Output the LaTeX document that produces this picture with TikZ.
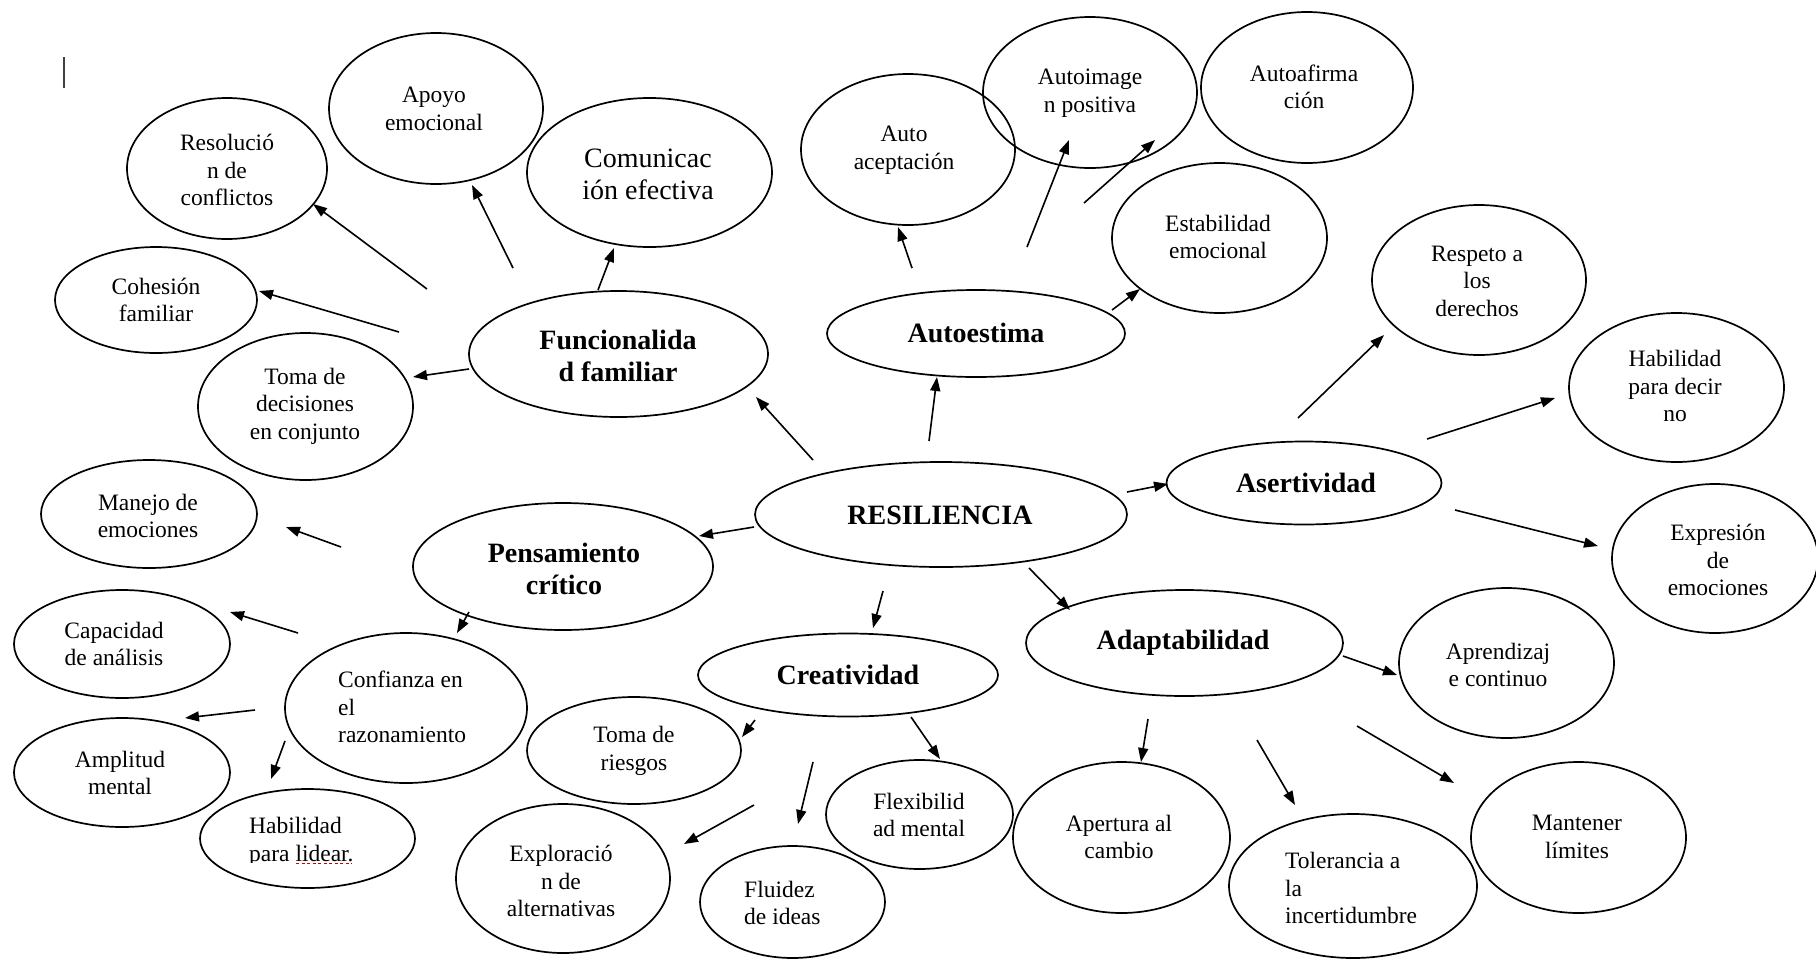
\documentclass[tikz,border=0pt]{standalone}
\usepackage{fontspec}
\setmainfont{Liberation Serif}
\usetikzlibrary{shapes.geometric,arrows.meta}
\tikzset{
  ell/.style={draw, ellipse, line width=1.7pt, inner sep=0pt, outer sep=0pt},
  txt/.style={inner sep=0pt, align=center, font=\fontsize{23.5}{27.5}\selectfont},
  txtl/.style={inner sep=0pt, align=left, font=\fontsize{23.5}{27.5}\selectfont},
  big/.style={inner sep=0pt, align=center, font=\fontsize{28}{32}\selectfont},
  bold/.style={inner sep=0pt, align=center, font=\fontsize{28}{32}\selectfont\bfseries},
  arr/.style={line width=1.6pt, -{Triangle[length=14pt,width=10pt]}}
}
\begin{document}
\begin{tikzpicture}[x=1pt,y=-1pt]
\useasboundingbox[fill=white] (0,0) rectangle (1816,959);
% text cursor
\coordinate (cur1) at (64,57); \coordinate (cur2) at (64,88);
\draw[line width=2.5pt, black!75] (cur1) -- (cur2);
% ellipses
\node[ell, minimum width=200, minimum height=141] (resol) at (227,168.5) {};
\node[ell, minimum width=214, minimum height=151] (apoyo) at (436,108.5) {};
\node[ell, minimum width=245, minimum height=149] (comun) at (649.5,172.5) {};
\node[ell, minimum width=202, minimum height=106] (cohes) at (156,300) {};
\node[ell, minimum width=215, minimum height=147] (tomadec) at (305.5,406.5) {};
\node[ell, minimum width=299, minimum height=126] (func) at (618.5,354) {};
\node[ell, minimum width=214, minimum height=151] (autoac) at (908,149.5) {};
\node[ell, minimum width=214, minimum height=151] (autoim) at (1090,92.5) {};
\node[ell, minimum width=212, minimum height=151] (autoaf) at (1307,87.5) {};
\node[ell, minimum width=215, minimum height=150] (estab) at (1219.5,238) {};
\node[ell, minimum width=298, minimum height=87] (autoest) at (976,333.5) {};
\node[ell, minimum width=214, minimum height=150] (respeto) at (1479,280) {};
\node[ell, minimum width=215, minimum height=149] (decirno) at (1676.5,387.5) {};
\node[ell, minimum width=275, minimum height=83] (asert) at (1304,483) {};
\node[ell, minimum width=206, minimum height=149] (expres) at (1715,558.5) {};
\node[ell, minimum width=372, minimum height=105] (resil) at (941,514.5) {};
\node[ell, minimum width=216, minimum height=108] (manejo) at (149,514) {};
\node[ell, minimum width=300, minimum height=127] (pens) at (563,566.5) {};
\node[ell, minimum width=216, minimum height=108] (capac) at (122,644) {};
\node[ell, minimum width=242, minimum height=150] (confi) at (406,708) {};
\node[ell, minimum width=216, minimum height=109] (amplit) at (122,772.5) {};
\node[ell, minimum width=215, minimum height=99] (lidear) at (307.5,838.5) {};
\node[ell, minimum width=214, minimum height=107] (riesgos) at (634,750.5) {};
\node[ell, minimum width=214, minimum height=149] (explor) at (563,878.5) {};
\node[ell, minimum width=300, minimum height=83] (creat) at (848,675) {};
\node[ell, minimum width=185, minimum height=112] (fluidez) at (792.5,902) {};
\node[ell, minimum width=187, minimum height=109] (flexib) at (919.5,814.5) {};
\node[ell, minimum width=317, minimum height=106] (adapt) at (1184.5,643) {};
\node[ell, minimum width=215, minimum height=150] (aprend) at (1506.5,663) {};
\node[ell, minimum width=217, minimum height=151] (apert) at (1121.5,837.5) {};
\node[ell, minimum width=248, minimum height=144] (toler) at (1353,886) {};
\node[ell, minimum width=215, minimum height=151] (manten) at (1578.5,837.5) {};
% texts
\node[txt] (resol-t) at (227,170) {Resolució\\n de\\conflictos};
\node[txt] (apoyo-t) at (434,109) {Apoyo\\emocional};
\node[big] (comun-t) at (648,174) {Comunicac\\ión efectiva};
\node[txt] (cohes-t) at (156,300) {Cohesión\\familiar};
\node[txt] (tomadec-t) at (305,406) {Toma de\\decisiones\\en conjunto};
\node[bold] (func-t) at (618,356) {Funcionalida\\d familiar};
\node[txt] (autoac-t) at (904,150) {Auto\\aceptación};
\node[txt] (autoim-t) at (1090,93) {Autoimage\\n positiva};
\node[txt] (autoaf-t) at (1304,87) {Autoafirma\\ción};
\node[txt] (estab-t) at (1218,237) {Estabilidad\\emocional};
\node[bold] (autoest-t) at (976,333) {Autoestima};
\node[txt] (respeto-t) at (1477,281) {Respeto a\\los\\derechos};
\node[txt] (decirno-t) at (1675,386) {Habilidad\\para decir\\no};
\node[bold] (asert-t) at (1306,483) {Asertividad};
\node[txt] (expres-t) at (1718,560) {Expresión\\de\\emociones};
\node[bold] (resil-t) at (940,515) {RESILIENCIA};
\node[txt] (manejo-t) at (148,516) {Manejo de\\emociones};
\node[bold] (pens-t) at (564,569) {Pensamiento\\crítico};
\node[txt] (capac-t) at (114,644) {Capacidad\\de análisis};
\node[txtl, anchor=west] (confi-t) at (338,707) {Confianza en\\el\\razonamiento};
\node[txt] (amplit-t) at (120,773) {Amplitud\\mental};
\begin{scope}
\clip (190,780) rectangle (430,862.5);
\node[txtl, anchor=west] (lidear-t) at (249,842) {Habilidad\\para lidear.};
\end{scope}
\coordinate (sq1) at (296,863.5); \coordinate (sq2) at (352,863.5);
\draw[red!80!black, line width=1.2pt, dash pattern=on 3pt off 2.5pt] (sq1) -- (sq2);
\node[txt] (riesgos-t) at (634,751) {Toma de\\riesgos};
\node[txt] (explor-t) at (561,881) {Exploració\\n de\\alternativas};
\node[bold] (creat-t) at (848,675) {Creatividad};
\node[txtl, anchor=west] (fluidez-t) at (744,903) {Fluidez\\de ideas};
\node[txt] (flexib-t) at (919,815) {Flexibilid\\ad mental};
\node[bold] (adapt-t) at (1183,643) {Adaptabilidad};
\node[txt] (aprend-t) at (1498,665) {Aprendizaj\\e continuo};
\node[txt] (apert-t) at (1119,837) {Apertura al\\cambio};
\node[txtl, anchor=west] (toler-t) at (1285,888) {Tolerancia a\\la\\incertidumbre};
\node[txt] (manten-t) at (1577,837) {Mantener\\límites};
% arrows
\foreach \n/\sx/\sy/\ex/\ey in {
 1/427/289/313/204, 2/513/268/472/185, 3/598/290/614/248, 4/399/332/259/291,
 5/469/369/413/377, 6/813/460/756/397, 7/912/268/898/227, 8/1027/247/1069/140,
 9/1084/203/1155/140, 10/1112/310/1140/289, 11/929/441/937/377, 12/1298/418/1384/335,
 13/1427/439/1555/398, 14/1455/510/1598/546, 15/1127/492/1168/484, 16/1029/568/1070/610,
 17/883/591/873/628, 18/754/527/699/536, 19/341/547/286/527, 20/469/612/457/633,
 21/298/633/230/612, 22/255/710/185/718, 23/285/741/271/779, 24/755/720/742/737,
 25/754/805/684/844, 26/813/762/798/824, 27/911/717/940/759, 28/1343/656/1397/675,
 29/1148/719/1141/762, 30/1257/740/1295/805, 31/1357/726/1454/783}{
  \coordinate (s\n) at (\sx,\sy);
  \coordinate (e\n) at (\ex,\ey);
  \draw[arr] (s\n) -- (e\n);
}
\end{tikzpicture}
\end{document}
